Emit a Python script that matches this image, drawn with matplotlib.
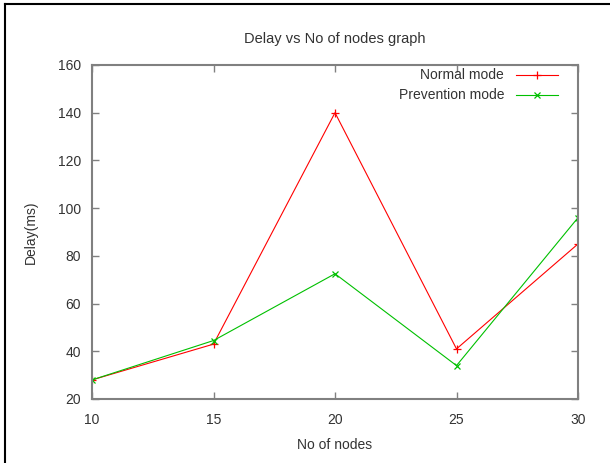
import matplotlib
matplotlib.use("Agg")
import matplotlib.pyplot as plt
from matplotlib.lines import Line2D

# data
nodes = [10, 15, 20, 25, 30]
normal_delay = [28, 43, 140, 41, 85]
prevention_delay = [28, 44.5, 72.5, 34, 96]

plt.rcParams['font.family'] = ['Liberation Sans', 'DejaVu Sans']
plt.rcParams['font.size'] = 10
txt = '#333333'

fig = plt.figure(figsize=(6.1, 4.63), dpi=100)
ax = fig.add_axes([92/610, 64/463, 486/610, 334/463])

ax.plot(nodes, normal_delay, color='#ff0000', lw=0.8, marker='+', ms=6, mew=0.9)
ax.plot(nodes, prevention_delay, color='#00c000', lw=0.8, marker='x', ms=4.5, mew=0.9)

ax.set_xlim(10, 30)
ax.set_ylim(20, 160)
ax.set_xticks([10, 15, 20, 25, 30])
ax.set_yticks(range(20, 161, 20))
ax.tick_params(axis='y', pad=8)
ax.tick_params(axis='x', pad=10)
ax.tick_params(direction='in', length=5, width=1, color='#808080',
               top=True, right=True, labelcolor=txt)
for s in ax.spines.values():
    s.set_color('#808080')
    s.set_linewidth(1.5)

ax.set_title('Delay vs No of nodes graph', color=txt, fontsize=10.5, pad=16)
ax.set_xlabel('No of nodes', color=txt, labelpad=8)
ax.set_ylabel('Delay(ms)', color=txt, labelpad=14)

# gnuplot style key: text right aligned, sample to the right
labels = ['Normal mode', 'Prevention mode']
colors = ['#ff0000', '#00c000']
marks = ['+', 'x']
sizes = [6, 4.5]
for i in range(2):
    yk = 1 - (10 + 20*i) / 334
    ax.text(0.848, yk, labels[i], transform=ax.transAxes, ha='right', va='center',
            color=txt)
    ax.add_line(Line2D([0.873, 0.958], [yk, yk], transform=ax.transAxes,
                       color=colors[i], lw=0.8))
    ax.add_line(Line2D([0.9155], [yk], transform=ax.transAxes, color=colors[i],
                       marker=marks[i], ms=sizes[i], mew=0.9))

# outer frame of the screenshot
fig.add_artist(Line2D([5/610, 1], [1 - 4/463, 1 - 4/463], transform=fig.transFigure,
                      color='black', lw=1.5))
fig.add_artist(Line2D([5/610, 5/610], [0, 1 - 4/463], transform=fig.transFigure,
                      color='black', lw=1.5))

fig.savefig('out.png', dpi=100)
